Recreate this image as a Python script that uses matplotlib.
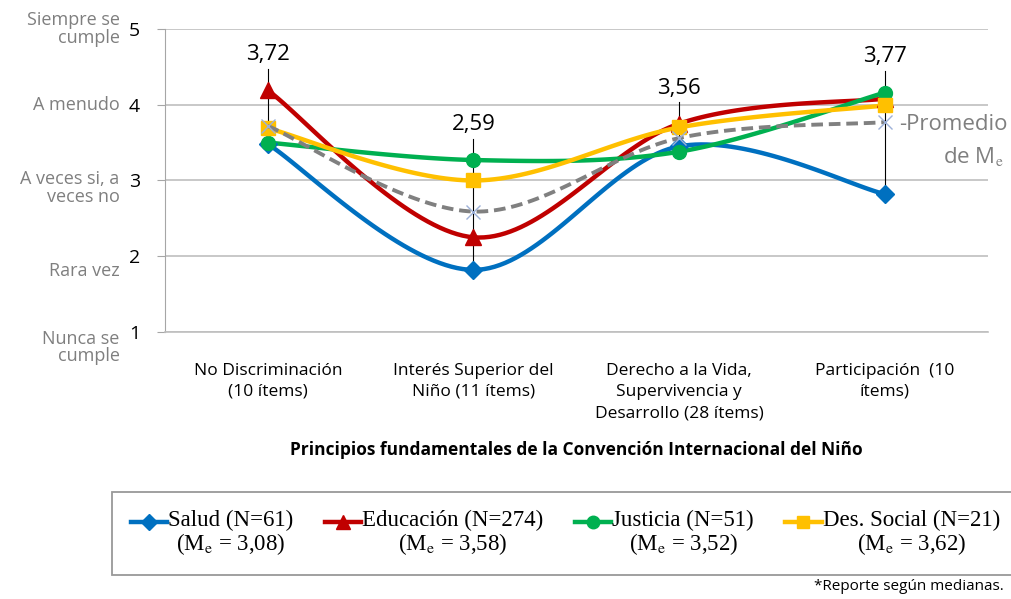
import matplotlib.pyplot as plt
import numpy as np
from matplotlib.legend_handler import HandlerLine2D

plt.rcParams['font.family'] = ['Open Sans', 'DejaVu Sans']
plt.rcParams['mathtext.fontset'] = 'stix'

categorias = ['No Discriminación\n(10 ítems)', 'Interés Superior del\nNiño (11 ítems)',
              'Derecho a la Vida,\nSupervivencia y\nDesarrollo (28 ítems)', 'Participación  (10\nítems)']
salud = [3.48, 1.82, 3.45, 2.82]
educacion = [4.19, 2.25, 3.75, 4.08]
justicia = [3.50, 3.27, 3.38, 4.16]
des_social = [3.69, 3.00, 3.70, 3.99]
promedio = [3.72, 2.59, 3.56, 3.77]
etiquetas_prom = ['3,72', '2,59', '3,56', '3,77']
niveles = ['Siempre se\ncumple', 'A menudo', 'A veces si, a\nveces no', 'Rara vez', 'Nunca se\ncumple']
nombres = ['Salud (N=61)\n(M$_\\mathrm{e}$ = 3,08)', 'Educación (N=274)\n(M$_\\mathrm{e}$ = 3,58)',
           'Justicia (N=51)\n(M$_\\mathrm{e}$ = 3,52)', 'Des. Social (N=21)\n(M$_\\mathrm{e}$ = 3,62)']


def suave(x, y, n=40):
    # curva tipo Excel (Bezier con tangentes Catmull-Rom)
    p = np.column_stack([x, y]).astype(float)
    p = np.vstack([p[0], p, p[-1]])
    xs, ys = [], []
    t = np.linspace(0, 1, n)[:, None]
    for i in range(1, len(p) - 2):
        p0, p1 = p[i], p[i + 1]
        c1 = p0 + (p[i + 1] - p[i - 1]) / 6
        c2 = p1 - (p[i + 2] - p[i]) / 6
        b = (1 - t) ** 3 * p0 + 3 * (1 - t) ** 2 * t * c1 + 3 * (1 - t) * t ** 2 * c2 + t ** 3 * p1
        xs.extend(b[:, 0]); ys.extend(b[:, 1])
    return xs, ys


class HandlerArriba(HandlerLine2D):
    # el simbolo de la leyenda va a la altura de la primera linea
    def create_artists(self, *args, **kwargs):
        arts = super().create_artists(*args, **kwargs)
        for a in arts:
            a.set_ydata(np.asarray(a.get_ydata()) + 8.5)
        return arts


fig = plt.figure(figsize=(10.12, 5.99), dpi=100)
ax = fig.add_axes([0.163, 0.4457, 0.813, 0.506])
x = np.arange(len(categorias))

# lineas verticales (max-min) y etiquetas del promedio
todas = np.array([salud, educacion, justicia, des_social, promedio])
for i, t in zip(x, etiquetas_prom):
    lo, hi = todas[:, i].min(), todas[:, i].max()
    ax.plot([i, i], [lo, hi + 0.28], color='black', lw=0.8, zorder=2)
    ax.text(i, hi + 0.47, t, ha='center', va='center', fontsize=16, color='black')

series = [(salud, '#0070C0', 'D', 9), (educacion, '#C00000', '^', 11),
          (justicia, '#00B050', 'o', 10), (des_social, '#FFC000', 's', 10)]
handles = []
for (vals, col, mk, ms), nom in zip(series, nombres):
    sx, sy = suave(x, vals)
    ax.plot(sx, sy, color=col, lw=3.2, zorder=3, solid_capstyle='round')
    ax.plot(x, vals, ls='none', marker=mk, ms=ms, color=col, zorder=4)
    h, = ax.plot([], [], color=col, lw=3.2, marker=mk, ms=ms - 1)
    handles.append(h)

sx, sy = suave(x, promedio)
ax.plot(sx, sy, color='#808080', lw=2.8, ls=(0, (3, 1.5)), zorder=5)
ax.plot(x, promedio, ls='none', marker='x', ms=10, mew=1, color='#9DB1D8', zorder=6)

ax.text(3.07, 3.74, '-Promedio', ha='left', va='center', fontsize=16, color='#7F7F7F')
ax.text(3.58, 3.32, 'de M$_\\mathrm{e}$', ha='right', va='center', fontsize=16, color='#7F7F7F',
        clip_on=False)

ax.set_xlim(-0.5, 3.5)
ax.set_ylim(1, 5)
ax.set_yticks([1, 2, 3, 4, 5])
ax.set_yticklabels(['1', '2', '3', '4', '5'], fontsize=14)
ax.set_xticks(x)
ax.set_xticklabels(categorias, fontsize=12.5, linespacing=1.45, va='top')
ax.tick_params(axis='x', length=0, pad=22)
ax.tick_params(axis='y', length=6, color='#A6A6A6', pad=12)
ax.grid(axis='y', color='#BFBFBF', lw=1.2)
ax.set_axisbelow(True)
for s in ['top', 'right']:
    ax.spines[s].set_visible(False)
ax.spines['left'].set_color('#A6A6A6')
ax.spines['bottom'].set_color('#BFBFBF')
ax.spines['bottom'].set_linewidth(1.2)

# etiquetas descriptivas del eje y
offs = [0, 0, -0.1, -0.2, -0.2]
for nivel, v, o in zip(niveles, [5, 4, 3, 2, 1], offs):
    ax.text(-0.72, v + o, nivel, ha='right', va='center', fontsize=13, color='#7F7F7F',
            linespacing=0.95, clip_on=False)

ax.set_xlabel('Principios fundamentales de la Convención Internacional del Niño',
              fontsize=12.5, fontweight='bold', labelpad=14)

leg = fig.legend(handles, nombres, loc='center', bbox_to_anchor=(0.5587, 0.1094), ncol=4,
                 frameon=True, fancybox=False, edgecolor='#7F7F7F', handlelength=1.6,
                 handletextpad=0.05, columnspacing=1.35, borderpad=0.8,
                 handler_map={h: HandlerArriba() for h in handles},
                 prop={'family': 'Liberation Serif', 'size': 16.5})
leg.get_frame().set_linewidth(1.3)
for t in leg.get_texts():
    t.set_multialignment('center')
    t.set_linespacing(1.0)

fig.text(0.992, 0.008, '*Reporte según medianas.', ha='right', va='bottom', fontsize=11)

fig.savefig('out.png', dpi=100)
